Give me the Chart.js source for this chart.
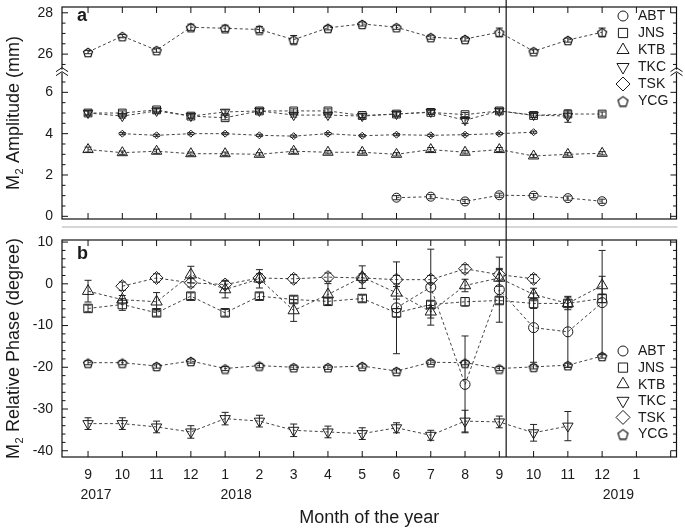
<!DOCTYPE html>
<html>
<head>
<meta charset="utf-8">
<script src="https://cdn.jsdelivr.net/npm/chart.js@4.4.1/dist/chart.umd.min.js"></script>
<style>
  html, body { margin: 0; padding: 0; background: #fff; }
  #wrap { position: relative; width: 685px; height: 529px; overflow: hidden; }
  #ampBox { position: absolute; left: 0; top: 0; }
  #phaseBox { position: absolute; left: 0; top: 226px; }
  canvas { display: block; }
</style>
</head>
<body>
<div id="wrap">
  <div id="ampBox"><canvas id="ampChart" width="685" height="226"></canvas></div>
  <div id="phaseBox"><canvas id="phaseChart" width="685" height="303"></canvas></div>
</div>
<script>
// Months on the x axis (index 0 = Sep 2017)
const months = ["9", "10", "11", "12", "1", "2", "3", "4", "5", "6", "7", "8", "9", "10", "11", "12", "1", ""]
const yearTicks = [0, 4, 16]
const yearNames = ["2017", "2018", "2019"]
const splitMonth = 12.2 // vertical marker line

const stations = ["ABT", "JNS", "KTB", "TKC", "TSK", "YCG"]

// Panel a: M2 amplitude (mm)
const ampTicks = [0, 2, 4, 6, 26, 28]
const ampMinor = [0.5, 1, 1.5, 2.5, 3, 3.5, 4.5, 5, 5.5, 6.5, 25.5, 26.5, 27, 27.5]
const ampABT = [null, null, null, null, null, null, null, null, null, 0.9, 0.95, 0.72, 1.02, 1.0, 0.88, 0.73]
const ampJNS = [5.0, 5.0, 5.15, 4.85, 4.77, 5.1, 5.1, 5.1, 4.88, 4.95, 5.03, 4.92, 5.1, 4.88, 4.95, 4.95]
const ampKTB = [3.23, 3.08, 3.15, 3.03, 3.03, 3.0, 3.15, 3.1, 3.1, 3.0, 3.23, 3.1, 3.23, 2.92, 3.0, 3.05]
const ampTKC = [5.0, 4.85, 5.1, 4.85, 5.05, 5.1, 4.9, 4.9, 4.85, 4.95, 5.05, 4.65, 5.1, 4.9, 4.85, null]
const ampTSK = [null, 4.0, 3.92, 4.0, 4.0, 3.92, 3.88, 4.0, 3.9, 3.95, 3.92, 3.95, 4.0, 4.07, null, null]
const ampYCG = [26.1, 26.87, 26.19, 27.3, 27.25, 27.19, 26.7, 27.27, 27.46, 27.3, 26.82, 26.73, 27.06, 26.14, 26.68, 27.06]

const ampErrABT = [null, null, null, null, null, null, null, null, null, 0.1, 0.1, 0.1, 0.1, 0.1, 0.1, 0.1]
const ampErrJNS = [0.1, 0.1, 0.1, 0.1, 0.1, 0.1, 0.1, 0.1, 0.1, 0.1, 0.1, 0.1, 0.1, 0.1, 0.1, 0.1]
const ampErrKTB = [0.12, 0.08, 0.1, 0.08, 0.08, 0.08, 0.1, 0.08, 0.08, 0.08, 0.1, 0.08, 0.1, 0.08, 0.08, 0.08]
const ampErrTKC = [0.1, 0.1, 0.1, 0.1, 0.1, 0.1, 0.1, 0.1, 0.1, 0.1, 0.1, 0.15, 0.1, 0.1, 0.3, null]
const ampErrTSK = [null, 0.05, 0.05, 0.05, 0.05, 0.05, 0.05, 0.05, 0.05, 0.05, 0.05, 0.05, 0.05, 0.05, null, null]
const ampErrYCG = [0.08, 0.08, 0.1, 0.15, 0.15, 0.15, 0.2, 0.1, 0.1, 0.1, 0.1, 0.1, 0.2, 0.1, 0.1, 0.2]

// Panel b: M2 relative phase (degree)
const phaseTicks = [-40, -30, -20, -10, 0, 10]
const phaseMinor = [-38, -36, -34, -32, -28, -26, -24, -22, -18, -16, -14, -12, -8, -6, -4, -2, 2, 4, 6, 8]
const phABT = [null, null, null, null, null, null, null, null, null, -5.75, -0.8, -24.1, -1.4, -10.5, -11.5, -4.5]
const phJNS = [-5.9, -4.96, -6.95, -2.96, -6.95, -2.96, -3.76, -4.2, -3.52, -6.95, -4.96, -4.3, -4.0, -4.7, -4.7, -3.5]
const phKTB = [-1.76, -3.8, -4.3, 2.2, -1.37, 1.2, -6.4, -2.56, 1.6, -2.16, -6.7, -0.4, 1.4, -2.56, -4.7, -0.4]
const phTKC = [-33.5, -33.5, -34.3, -35.5, -32.3, -32.9, -35.1, -35.5, -35.9, -34.5, -36.3, -32.9, -33.1, -35.7, -34.1, null]
const phTSK = [null, -0.57, 1.4, 0.24, -0.17, 1.4, 1.2, 1.6, 1.4, 1.0, 1.0, 3.6, 2.2, 1.2, null, null]
const phYCG = [-18.9, -18.9, -19.7, -18.5, -20.3, -19.6, -20.0, -20.0, -19.7, -20.9, -18.8, -18.9, -20.3, -19.9, -19.5, -17.3]

const phErrABT = [null, null, null, null, null, null, null, null, null, 11, 9.1, 11.6, 7.8, 8.3, 8.5, 12.5]
const phErrJNS = [0.8, 1.4, 0.8, 0.8, 0.8, 0.8, 0.8, 0.8, 0.8, 1.0, 0.8, 1.0, 0.8, 1.2, 0.8, 1.0]
const phErrKTB = [2.6, 1.0, 2.2, 2.0, 2.0, 2.2, 2.6, 2.6, 2.7, 1.5, 1.5, 1.5, 2.0, 1.5, 1.5, 2.2]
const phErrTKC = [1.4, 1.4, 1.4, 1.5, 1.5, 1.4, 1.5, 1.4, 1.4, 1.2, 1.2, 2.6, 1.4, 2.0, 3.5, null]
const phErrTSK = [null, 1.0, 1.0, 1.0, 1.0, 1.0, 1.0, 1.0, 1.0, 1.0, 1.0, 1.0, 1.5, 1.0, null, null]
const phErrYCG = [0.5, 0.5, 0.5, 0.5, 0.5, 0.5, 0.5, 0.5, 0.5, 0.5, 0.5, 0.5, 0.5, 0.5, 0.5, 0.5]

// Axis break on panel a: values above the break are shifted down
const breakShift = 18.15
const breakAt = 7.05
function toAmpAxis(v) {
  return v > 15 ? v - breakShift : v
}
function identity(v) {
  return v
}

// Styles
const fontFamily = '"Liberation Sans", Arial, Helvetica, sans-serif'
const textColor = "#1a1a1a"
const lineColor = "#444"
const markColor = "#1a1a1a"
const axisColor = "#111"
const xMin = -0.76
const xMax = 17.17

function pentagonImage(size) {
  const c = document.createElement("canvas")
  c.width = size + 2
  c.height = size + 2
  const g = c.getContext("2d")
  const mid = (size + 2) / 2
  const r = size / 2 - 0.25
  g.strokeStyle = "#000"
  g.lineWidth = 1.1
  g.beginPath()
  for (let i = 0; i < 5; i++) {
    const a = -Math.PI / 2 + (i * 2 * Math.PI) / 5
    const px = mid + r * Math.cos(a)
    const py = mid + r * Math.sin(a) + 0.9
    if (i === 0) g.moveTo(px, py)
    else g.lineTo(px, py)
  }
  g.closePath()
  g.stroke()
  return c
}

const markerStyles = {
  ABT: { pointStyle: "circle", rotation: 0 },
  JNS: { pointStyle: "rect", rotation: 0 },
  KTB: { pointStyle: "triangle", rotation: 0 },
  TKC: { pointStyle: "triangle", rotation: 180 },
  TSK: { pointStyle: "rectRot", rotation: 0 },
  YCG: { pointStyle: "pentagon", rotation: 0 },
}

function styleFor(name, radius) {
  const s = markerStyles[name]
  if (s.pointStyle === "pentagon") return { pointStyle: pentagonImage(Math.round(radius * 2)), rotation: 0 }
  return s
}

function toPoints(values, errors, toAxis) {
  return values
    .map((v, i) => ({ x: i, y: v == null ? null : toAxis(v), err: errors[i] }))
    .filter((p) => p.y != null)
}

function makeDataset(name, values, errors, radius, toAxis) {
  const s = styleFor(name, radius)
  return {
    label: name,
    data: toPoints(values, errors, toAxis),
    borderColor: lineColor,
    borderWidth: 1,
    borderDash: [3, 2.5],
    fill: false,
    tension: 0,
    pointStyle: s.pointStyle,
    pointRotation: s.rotation,
    pointRadius: radius,
    pointBorderWidth: 1,
    pointBorderColor: markColor,
    pointBackgroundColor: "rgba(0,0,0,0)",
  }
}

// Draw error bars from the per-point err values
const errorBarPlugin = {
  id: "errorBars",
  afterDatasetsDraw(chart) {
    const { ctx, scales } = chart
    ctx.save()
    ctx.strokeStyle = "#222"
    ctx.lineWidth = 1
    chart.data.datasets.forEach((ds) => {
      ds.data.forEach((p) => {
        if (!p.err) return
        const px = scales.x.getPixelForValue(p.x)
        const top = scales.y.getPixelForValue(p.y + p.err)
        const bot = scales.y.getPixelForValue(p.y - p.err)
        ctx.beginPath()
        ctx.moveTo(px, top)
        ctx.lineTo(px, bot)
        ctx.moveTo(px - 3.5, top)
        ctx.lineTo(px + 3.5, top)
        ctx.moveTo(px - 3.5, bot)
        ctx.lineTo(px + 3.5, bot)
        ctx.stroke()
      })
    })
    ctx.restore()
  },
}

function drawFrame(chart, major, minor, toAxis) {
  const { ctx, chartArea: a, scales } = chart
  ctx.save()
  ctx.strokeStyle = axisColor
  ctx.lineWidth = 1.2
  ctx.strokeRect(a.left, a.top, a.right - a.left, a.bottom - a.top)
  ctx.lineWidth = 1
  ctx.beginPath()
  months.forEach((m, i) => {
    const px = scales.x.getPixelForValue(i)
    ctx.moveTo(px, a.top)
    ctx.lineTo(px, a.top + 6)
    ctx.moveTo(px, a.bottom)
    ctx.lineTo(px, a.bottom - 6)
  })
  major.forEach((v) => {
    const py = scales.y.getPixelForValue(toAxis(v))
    ctx.moveTo(a.left, py)
    ctx.lineTo(a.left + 6, py)
    ctx.moveTo(a.right, py)
    ctx.lineTo(a.right - 6, py)
  })
  minor.forEach((v) => {
    const py = scales.y.getPixelForValue(toAxis(v))
    ctx.moveTo(a.left, py)
    ctx.lineTo(a.left + 3.5, py)
    ctx.moveTo(a.right, py)
    ctx.lineTo(a.right - 3.5, py)
  })
  ctx.stroke()
  ctx.restore()
}

function drawLegend(chart, topY, rowGap, radii) {
  const { ctx } = chart
  ctx.save()
  ctx.font = `14px ${fontFamily}`
  ctx.textBaseline = "middle"
  ctx.textAlign = "left"
  stations.forEach((name, i) => {
    const y = topY + i * rowGap
    const s = styleFor(name, radii[i])
    ctx.strokeStyle = markColor
    ctx.fillStyle = "rgba(0,0,0,0)"
    ctx.lineWidth = 1
    Chart.helpers.drawPoint(ctx, { pointStyle: s.pointStyle, rotation: s.rotation, radius: radii[i], borderWidth: 1 }, 623, y)
    ctx.fillStyle = textColor
    ctx.fillText(name, 638, y + 0.5)
  })
  ctx.restore()
}

function drawYTitle(ctx, cx, cy, rest) {
  ctx.save()
  ctx.translate(cx, cy)
  ctx.rotate(-Math.PI / 2)
  ctx.fillStyle = textColor
  ctx.textBaseline = "alphabetic"
  ctx.textAlign = "left"
  ctx.font = `18px ${fontFamily}`
  const wM = ctx.measureText("M").width
  const wRest = ctx.measureText(rest).width
  ctx.font = `11px ${fontFamily}`
  const wSub = ctx.measureText("2").width + 1
  let x = -(wM + wSub + wRest) / 2
  const base = 6.5
  ctx.font = `18px ${fontFamily}`
  ctx.fillText("M", x, base)
  x += wM
  ctx.font = `11px ${fontFamily}`
  ctx.fillText("2", x + 0.5, base + 4)
  x += wSub
  ctx.font = `18px ${fontFamily}`
  ctx.fillText(rest, x, base)
  ctx.restore()
}

function drawPanelLetter(ctx, letter, x, y) {
  ctx.save()
  ctx.font = `bold 18px ${fontFamily}`
  ctx.fillStyle = textColor
  ctx.textBaseline = "middle"
  ctx.fillText(letter, x, y)
  ctx.restore()
}

function drawSplitLine(chart, fromY, toY) {
  const { ctx, scales } = chart
  const px = scales.x.getPixelForValue(splitMonth)
  ctx.save()
  ctx.strokeStyle = axisColor
  ctx.lineWidth = 1.2
  ctx.beginPath()
  ctx.moveTo(px, fromY)
  ctx.lineTo(px, toY)
  ctx.stroke()
  ctx.restore()
}

const legendRadii = [5, 6.5, 7, 7, 7, 5.5]

const ampDecor = {
  id: "ampDecor",
  afterDraw(chart) {
    const { ctx, chartArea: a, scales } = chart
    drawFrame(chart, ampTicks, ampMinor, toAmpAxis)
    drawSplitLine(chart, 0, chart.height)
    // axis break marks
    const by = scales.y.getPixelForValue(breakAt)
    ctx.save()
    ctx.strokeStyle = axisColor
    ctx.lineWidth = 1
    ;[a.left, a.right].forEach((bx) => {
      ctx.fillStyle = "#fff"
      ctx.fillRect(bx - 2, by - 1, 4, 3)
      ctx.beginPath()
      ctx.moveTo(bx - 6, by + 1)
      ctx.lineTo(bx, by - 3)
      ctx.lineTo(bx + 6, by + 1)
      ctx.moveTo(bx - 6, by + 5)
      ctx.lineTo(bx, by + 1)
      ctx.lineTo(bx + 6, by + 5)
      ctx.stroke()
    })
    ctx.restore()
    drawLegend(chart, 16, 17, legendRadii)
    drawPanelLetter(ctx, "a", 77, 16)
    drawYTitle(ctx, 12, (a.top + a.bottom) / 2, " Amplitude (mm)")
  },
}

const phaseDecor = {
  id: "phaseDecor",
  afterDraw(chart) {
    const { ctx, chartArea: a, scales } = chart
    // thin grey band between the panels
    ctx.save()
    ctx.strokeStyle = "#d6d6d6"
    ctx.lineWidth = 2
    ctx.beginPath()
    ctx.moveTo(a.left, 1)
    ctx.lineTo(a.right + 1, 1)
    ctx.stroke()
    ctx.restore()
    drawFrame(chart, phaseTicks, phaseMinor, identity)
    drawSplitLine(chart, 0, a.bottom)
    drawLegend(chart, 125, 16.6, legendRadii)
    drawPanelLetter(ctx, "b", 77, 28)
    drawYTitle(ctx, 12, (a.top + a.bottom) / 2, " Relative Phase (degree)")
    // year labels under the month ticks
    const yearShift = [8, 11, -18]
    ctx.save()
    ctx.font = `14px ${fontFamily}`
    ctx.fillStyle = textColor
    ctx.textAlign = "center"
    ctx.textBaseline = "middle"
    yearTicks.forEach((t, i) => {
      ctx.fillText(yearNames[i], scales.x.getPixelForValue(t) + yearShift[i], a.bottom + 38)
    })
    ctx.restore()
  },
}

function yAxis(min, max, ticks, toAxis) {
  return {
    type: "linear",
    min: min,
    max: max,
    afterBuildTicks: (s) => {
      s.ticks = ticks.map((v) => ({ value: toAxis(v) }))
    },
    afterFit: (s) => {
      s.width = 62
      s.paddingTop = 0
      s.paddingBottom = 0
    },
    grid: { display: false, drawTicks: false },
    border: { display: false },
    ticks: {
      autoSkip: false,
      padding: 9,
      color: textColor,
      font: { family: fontFamily, size: 14 },
      callback: (v, i) => String(ticks[i]),
    },
  }
}

const baseOptions = {
  responsive: false,
  animation: false,
  events: [],
  plugins: { legend: { display: false }, tooltip: { enabled: false } },
}

const ampRadii = [4.5, 5.5, 6, 5.5, 3.5, 5]
const phaseRadii = [5, 6, 6.5, 6, 6.5, 5]

new Chart(document.getElementById("ampChart"), {
  type: "line",
  data: {
    datasets: [
      makeDataset("ABT", ampABT, ampErrABT, ampRadii[0], toAmpAxis),
      makeDataset("JNS", ampJNS, ampErrJNS, ampRadii[1], toAmpAxis),
      makeDataset("KTB", ampKTB, ampErrKTB, ampRadii[2], toAmpAxis),
      makeDataset("TKC", ampTKC, ampErrTKC, ampRadii[3], toAmpAxis),
      makeDataset("TSK", ampTSK, ampErrTSK, ampRadii[4], toAmpAxis),
      makeDataset("YCG", ampYCG, ampErrYCG, ampRadii[5], toAmpAxis),
    ],
  },
  options: {
    ...baseOptions,
    layout: { padding: { left: 0, top: 1, right: 8.5, bottom: 3 } },
    scales: {
      x: { type: "linear", min: xMin, max: xMax, display: false },
      y: yAxis(-0.13, 10.13, ampTicks, toAmpAxis),
    },
  },
  plugins: [errorBarPlugin, ampDecor],
})

new Chart(document.getElementById("phaseChart"), {
  type: "line",
  data: {
    datasets: [
      makeDataset("ABT", phABT, phErrABT, phaseRadii[0], identity),
      makeDataset("JNS", phJNS, phErrJNS, phaseRadii[1], identity),
      makeDataset("KTB", phKTB, phErrKTB, phaseRadii[2], identity),
      makeDataset("TKC", phTKC, phErrTKC, phaseRadii[3], identity),
      makeDataset("TSK", phTSK, phErrTSK, phaseRadii[4], identity),
      makeDataset("YCG", phYCG, phErrYCG, phaseRadii[5], identity),
    ],
  },
  options: {
    ...baseOptions,
    layout: { padding: { left: 0, top: 14, right: 8.5, bottom: 0 } },
    scales: {
      x: {
        type: "linear",
        min: xMin,
        max: xMax,
        afterBuildTicks: (s) => {
          s.ticks = months.map((m, i) => ({ value: i }))
        },
        afterFit: (s) => {
          s.height = 72
          s.paddingLeft = 0
          s.paddingRight = 0
        },
        grid: { display: false, drawTicks: false },
        border: { display: false },
        ticks: {
          autoSkip: false,
          maxRotation: 0,
          padding: 10,
          color: textColor,
          font: { family: fontFamily, size: 14 },
          callback: (v, i) => months[i],
        },
        title: {
          display: true,
          text: "Month of the year",
          color: textColor,
          font: { family: fontFamily, size: 18 },
          padding: { top: 0, bottom: 0 },
        },
      },
      y: yAxis(-41.5, 10.5, phaseTicks, identity),
    },
  },
  plugins: [errorBarPlugin, phaseDecor],
})
</script>
</body>
</html>
